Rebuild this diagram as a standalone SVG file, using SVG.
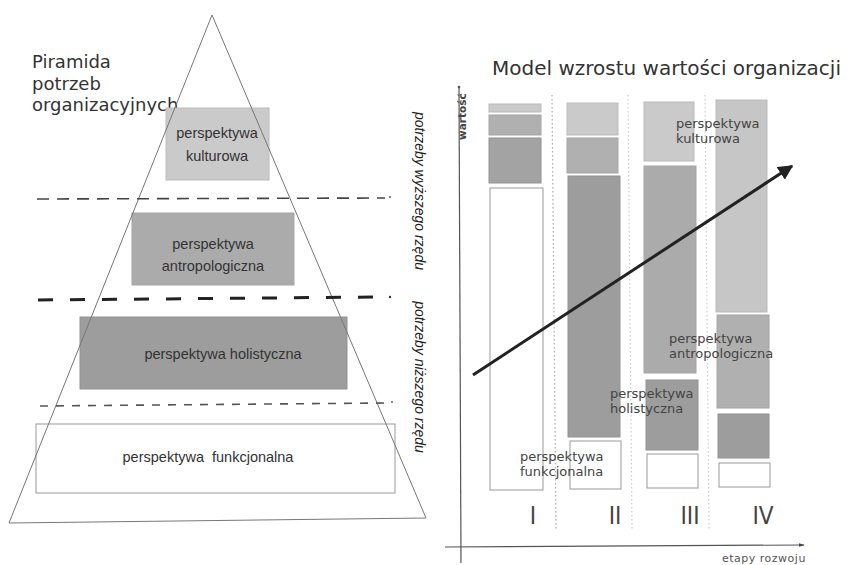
<svg xmlns="http://www.w3.org/2000/svg" width="851" height="565" viewBox="0 0 851 565">
<defs>
<style>
.title{font-family:"DejaVu Sans",sans-serif;fill:#333}
.pl{font-family:"Liberation Sans",Arial,sans-serif;font-size:14.5px;fill:#333;text-anchor:middle;white-space:pre}
.cl{font-family:"DejaVu Sans",sans-serif;font-size:13px;fill:#444}
.side{font-family:"Liberation Sans",Arial,sans-serif;font-size:14px;font-style:italic;fill:#222;text-anchor:middle}
.num{font-family:"DejaVu Sans Condensed","DejaVu Sans",sans-serif;font-size:24px;fill:#444;text-anchor:middle}
.light{fill:#cacaca;stroke:#bbb;stroke-width:1}
.mid{fill:#b0b0b0;stroke:#a5a5a5;stroke-width:1}
.dark{fill:#9d9d9d;stroke:#929292;stroke-width:1}
.white{fill:#fff;stroke:#999;stroke-width:1}
.sep{stroke:#aaa;stroke-width:1.2;stroke-dasharray:1.5 2.5;fill:none}
</style>
<marker id="ah" viewBox="0 0 10 10" refX="9" refY="5" markerWidth="5" markerHeight="5" orient="auto" markerUnits="strokeWidth">
<path d="M0,0 L10,5 L0,10 Z" fill="#222"/>
</marker>
<marker id="ax" viewBox="0 0 10 10" refX="9" refY="5" markerWidth="6" markerHeight="6" orient="auto" markerUnits="userSpaceOnUse">
<path d="M0,2 L10,5 L0,8 Z" fill="#444"/>
</marker>
</defs>
<rect width="851" height="565" fill="#fff"/>

<text class="title" font-size="18" x="32"><tspan x="32" y="68">Piramida</tspan><tspan x="32" y="90">potrzeb</tspan><tspan x="32" y="111">organizacyjnych</tspan></text>

<g id="pyr-kulturowa">
<rect class="light" x="166" y="108" width="103" height="72"/>
<text class="pl" x="217" y="138">perspektywa</text>
<text class="pl" x="217" y="161">kulturowa</text>
</g>
<g id="pyr-antropologiczna">
<rect class="mid" x="132" y="213" width="162" height="72" style="fill:#ababab"/>
<text class="pl" x="213" y="249">perspektywa</text>
<text class="pl" x="213" y="271">antropologiczna</text>
</g>
<g id="pyr-holistyczna">
<rect class="dark" x="80" y="317" width="267" height="72"/>
<text class="pl" x="223" y="359">perspektywa holistyczna</text>
</g>
<g id="pyr-funkcjonalna">
<rect class="white" x="36" y="424" width="359" height="69"/>
<text class="pl" x="208" y="462">perspektywa  funkcjonalna</text>
</g>

<g id="pyramid-outline">
<polygon points="212,15 9,523 426,518" fill="none" stroke="#777" stroke-width="1"/>
</g>

<g id="levels">
<line x1="37" y1="199" x2="385" y2="198" stroke="#444" stroke-width="1.6" stroke-dasharray="12 8"/>
<line x1="38" y1="300" x2="380" y2="297" stroke="#222" stroke-width="3" stroke-dasharray="15 17"/>
<line x1="40" y1="406" x2="385" y2="403" stroke="#555" stroke-width="1.6" stroke-dasharray="8 8"/>
<circle cx="390" cy="197" r="0.9" fill="#555"/>
<circle cx="390" cy="297" r="1.2" fill="#333"/>
<circle cx="392" cy="402" r="0.9" fill="#555"/>
</g>

<text class="side" transform="translate(415,191) rotate(90)">potrzeby wyższego rzędu</text>
<text class="side" transform="translate(415,377) rotate(90)">potrzeby niższego rzędu</text>

<text class="title" font-size="20" x="492" y="75">Model wzrostu wartości organizacji</text>

<g id="axes">
<line x1="459" y1="87" x2="461" y2="563" stroke="#555" stroke-width="1.2"/>
<circle cx="459" cy="87" r="1.3" fill="#555"/>
<line x1="445" y1="547" x2="804" y2="545" stroke="#555" stroke-width="1.2" marker-end="url(#ax)"/>
<text class="title" font-size="10.5" font-weight="bold" transform="translate(466,140) rotate(-90)" style="fill:#444">wartość</text>
<text class="title" font-size="11" x="722" y="562" letter-spacing="0.5" style="fill:#555">etapy rozwoju</text>
</g>

<g id="separators">
<line class="sep" x1="552" y1="95" x2="556" y2="530"/>
<line class="sep" x1="628" y1="95" x2="632" y2="530" style="stroke:#ccc"/>
<line class="sep" x1="705" y1="95" x2="709" y2="530" style="stroke:#ccc"/>
</g>

<g id="col-I">
<rect class="light" x="489" y="104" width="52" height="8"/>
<rect class="mid" x="489" y="115" width="52" height="20"/>
<rect class="dark" x="489" y="138" width="52" height="45" style="fill:#a3a3a3"/>
<rect class="white" x="490" y="188" width="53" height="302"/>
</g>
<g id="col-II">
<rect class="light" x="567" y="103" width="51" height="32"/>
<rect class="mid" x="567" y="138" width="51" height="35"/>
<rect class="dark" x="568" y="176" width="52" height="261"/>
<rect class="white" x="570" y="441" width="51" height="48"/>
</g>
<g id="col-III">
<rect class="light" x="644" y="102" width="50" height="59"/>
<rect class="mid" x="644" y="166" width="52" height="207" style="fill:#ababab"/>
<rect class="dark" x="646" y="380" width="52" height="70"/>
<rect class="white" x="647" y="454" width="51" height="34"/>
</g>
<g id="col-IV">
<rect class="light" x="716" y="100" width="51" height="212" style="fill:#c6c6c6"/>
<rect class="mid" x="717" y="315" width="52" height="93"/>
<rect class="dark" x="718" y="414" width="51" height="44"/>
<rect class="white" x="719" y="463" width="51" height="24"/>
</g>

<g id="chart-labels">
<text class="cl" x="676" y="128">perspektywa</text>
<text class="cl" x="676" y="143">kulturowa</text>
<text class="cl" x="669" y="343">perspektywa</text>
<text class="cl" x="669" y="358">antropologiczna</text>
<text class="cl" x="610" y="398">perspektywa</text>
<text class="cl" x="610" y="413">holistyczna</text>
<text class="cl" x="520" y="461">perspektywa</text>
<text class="cl" x="520" y="476">funkcjonalna</text>
</g>

<g id="stages">
<text class="num" x="533" y="524">I</text>
<text class="num" x="615" y="524">II</text>
<text class="num" x="690" y="524">III</text>
<text class="num" x="763" y="524">IV</text>
</g>

<g id="connectors">
<line x1="473" y1="375" x2="792" y2="166" stroke="#222" stroke-width="3" marker-end="url(#ah)"/>
</g>
</svg>
